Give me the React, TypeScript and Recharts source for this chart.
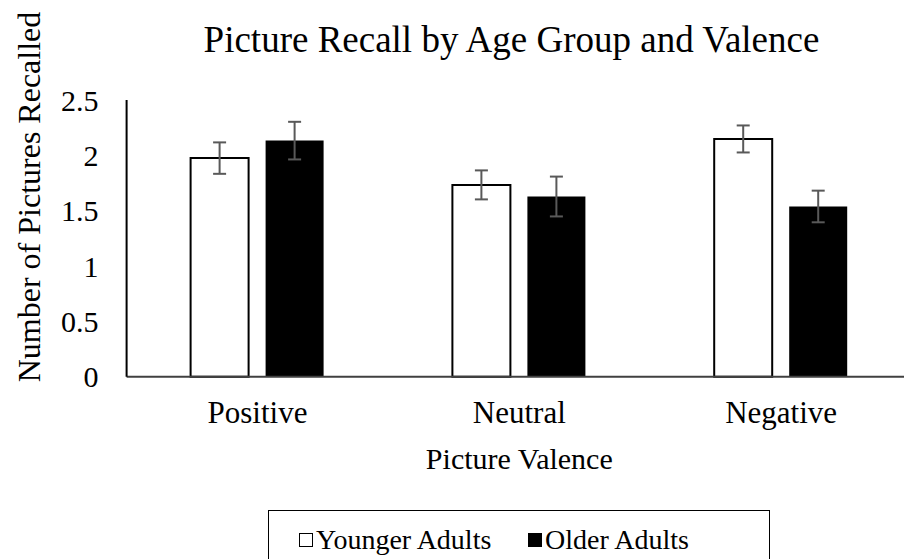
import React from 'react';
import { BarChart, Bar, XAxis, YAxis, ErrorBar, Label } from 'recharts';

const categories = ['Positive', 'Neutral', 'Negative'];
const youngerValues = [1.975, 1.733, 2.148];
const youngerErrors = [0.142, 0.131, 0.122];
const olderValues = [2.133, 1.628, 1.538];
const olderErrors = [0.17, 0.18, 0.143];
const yTicks = [0, 0.5, 1, 1.5, 2, 2.5];
const seriesNames = ['Younger Adults', 'Older Adults'];
const seriesFills = ['#ffffff', '#000000'];

const chartTitle = 'Picture Recall by Age Group and Valence';
const xTitle = 'Picture Valence';
const yTitle = 'Number of Pictures Recalled';

const data = categories.map((c, i) => ({
  category: c,
  younger: youngerValues[i],
  youngerErr: youngerErrors[i],
  older: olderValues[i],
  olderErr: olderErrors[i],
}));

const FONT = 'Liberation Serif, Tinos, serif';

function YTick(props: any) {
  const { x, y, payload } = props;
  return (
    <text x={x} y={y} textAnchor="end" dominantBaseline="central" fontFamily={FONT} style={{ fontFamily: FONT }} fontSize={30} fill="#000">
      {payload.value}
    </text>
  );
}

function XTick(props: any) {
  const { x, y, payload } = props;
  return (
    <text x={x} y={y + 46} textAnchor="middle" fontFamily={FONT} style={{ fontFamily: FONT }} fontSize={31} fill="#000">
      {payload.value}
    </text>
  );
}

export default function App() {
  return (
    <div
      style={{
        position: 'fixed',
        left: 0,
        top: 0,
        width: 904,
        height: 559,
        overflow: 'hidden',
        background: '#fff',
        fontFamily: FONT,
      }}
    >
      <div
        style={{
          position: 'absolute',
          left: 111.5,
          top: 21,
          width: 800,
          textAlign: 'center',
          fontFamily: FONT,
          fontSize: 37,
          lineHeight: '38px',
          color: '#000',
          whiteSpace: 'nowrap',
        }}
      >
        {chartTitle}
      </div>
      <div style={{ position: 'absolute', left: 0, top: 0 }}>
        <BarChart
          width={920}
          height={559}
          data={data}
          margin={{ top: 100, right: 8, bottom: 0, left: 26.6 }}
          barSize={58}
          barGap={17}
          style={{ fontFamily: FONT }}
        >
          <XAxis
            dataKey="category"
            axisLine={{ stroke: '#404040', strokeWidth: 2 }}
            tickLine={false}
            tickSize={0}
            tickMargin={0}
            height={182.3}
            interval={0}
            tick={<XTick />}
          >
            <Label
              content={(p: any) => {
                const vb = p.viewBox || {};
                return (
                  <text
                    x={vb.x + vb.width / 2}
                    y={469}
                    textAnchor="middle"
                    fontFamily={FONT}
                    style={{ fontFamily: FONT }}
                    fontSize={30}
                    fill="#000"
                  >
                    {xTitle}
                  </text>
                );
              }}
            />
          </XAxis>
          <YAxis
            width={100}
            domain={[0, 2.5]}
            ticks={yTicks}
            interval={0}
            axisLine={{ stroke: '#000', strokeWidth: 2 }}
            tickLine={false}
            tickSize={0}
            tickMargin={28}
            tick={<YTick />}
          >
            <Label
              content={() => (
                <text
                  transform="translate(29,197) rotate(-90)"
                  textAnchor="middle"
                  dominantBaseline="central"
                  fontFamily={FONT}
                  style={{ fontFamily: FONT }}
                  fontSize={32}
                  fill="#000"
                >
                  {yTitle}
                </text>
              )}
            />
          </YAxis>
          <Bar dataKey="younger" name={seriesNames[0]} fill={seriesFills[0]} stroke="#000" strokeWidth={2} isAnimationActive={false}>
            <ErrorBar dataKey="youngerErr" width={6.5} stroke="#595959" strokeWidth={2} direction="y" />
          </Bar>
          <Bar dataKey="older" name={seriesNames[1]} fill={seriesFills[1]} isAnimationActive={false}>
            <ErrorBar dataKey="olderErr" width={6.5} stroke="#595959" strokeWidth={2} direction="y" />
          </Bar>
        </BarChart>
      </div>
      <div
        style={{
          position: 'absolute',
          left: 268,
          top: 510,
          width: 502,
          height: 70,
          border: '1.5px solid #000',
          boxSizing: 'border-box',
          fontFamily: FONT,
          fontSize: 28,
          color: '#000',
        }}
      >
        {seriesNames.map((name, i) => (
          <div
            key={name}
            style={{
              position: 'absolute',
              left: i === 0 ? 30 : 259,
              top: 13,
              display: 'flex',
              alignItems: 'center',
              whiteSpace: 'nowrap',
              lineHeight: '32px',
            }}
          >
            <span
              style={{
                display: 'inline-block',
                width: 14,
                height: 14,
                boxSizing: 'border-box',
                border: '1px solid #000',
                background: seriesFills[i],
                marginRight: 3,
              }}
            />
            <span>{name}</span>
          </div>
        ))}
      </div>
    </div>
  );
}
